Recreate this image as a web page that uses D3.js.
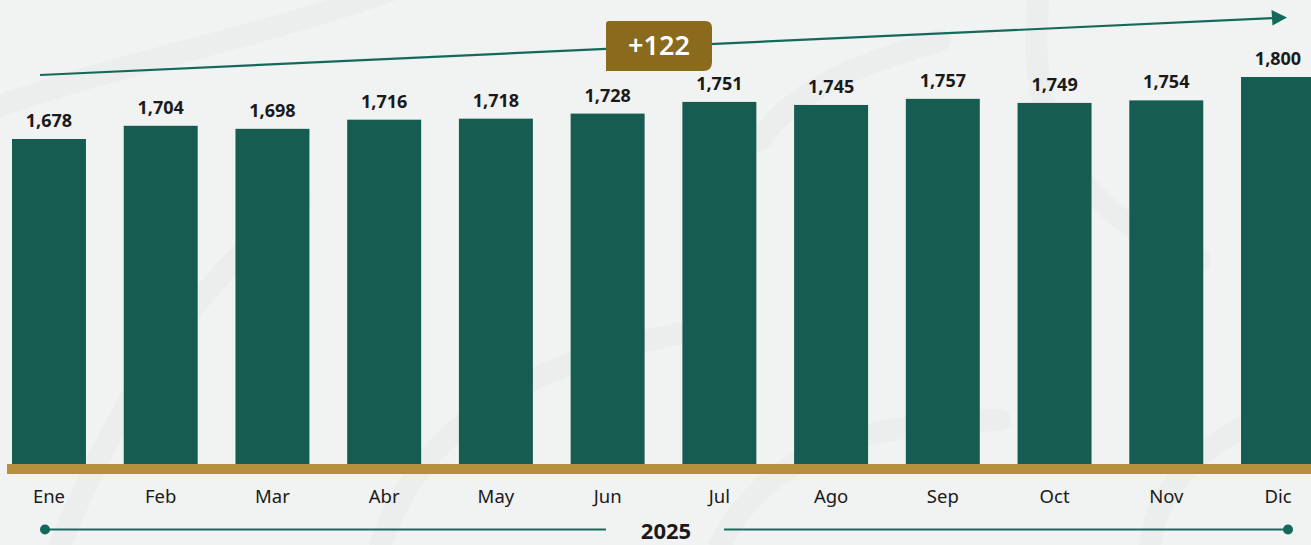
<!DOCTYPE html>
<html>
<head>
<meta charset="utf-8">
<script src="https://cdn.jsdelivr.net/npm/d3@7"></script>
<style>
  html, body { margin: 0; padding: 0; background: #f1f2f2; }
  svg { display: block; font-family: "Noto Sans", "Open Sans", sans-serif; }
</style>
</head>
<body>
<svg id="chart" width="1311" height="545"></svg>
<script>
const months = ["Ene", "Feb", "Mar", "Abr", "May", "Jun", "Jul", "Ago", "Sep", "Oct", "Nov", "Dic"];
const values = [1678, 1704, 1698, 1716, 1718, 1728, 1751, 1745, 1757, 1749, 1754, 1800];
const yearLabel = ["2025"];
const changeLabel = ["+122"];

const W = 1311, H = 545;
const svg = d3.select("#chart");

// background
svg.append("rect").attr("width", W).attr("height", H).attr("fill", "#f1f2f2");
const deco = svg.append("g").attr("fill", "none").attr("stroke", "#e8e9ea").attr("stroke-width", 22).attr("opacity", 0.55).attr("stroke-linecap", "round");
deco.append("path").attr("d", "M-40,120 C120,60 260,40 420,-20");
deco.append("path").attr("d", "M60,545 C120,400 180,300 300,200");
deco.append("path").attr("d", "M380,545 C420,430 520,360 700,330");
deco.append("path").attr("d", "M720,545 C760,460 860,420 1000,420");
deco.append("path").attr("d", "M1040,-10 C1020,120 1080,220 1200,260");
deco.append("path").attr("d", "M1150,545 C1160,470 1230,420 1320,400");
deco.append("path").attr("d", "M760,140 C800,80 880,60 940,40");

const x = d3.scaleBand().domain(months).range([12, 1315]).paddingInner(0.338).paddingOuter(0);
const y = d3.scaleLinear().domain([1038.5, 1800]).range([464, 77]);

// bars
svg.append("g").selectAll("rect").data(values).join("rect")
  .attr("x", (d, i) => x(months[i]))
  .attr("y", d => y(d))
  .attr("width", x.bandwidth())
  .attr("height", d => 464 - y(d))
  .attr("fill", "#165c50");

// value labels
svg.append("g").selectAll("text").data(values).join("text")
  .attr("x", (d, i) => x(months[i]) + x.bandwidth() / 2)
  .attr("y", d => y(d) - 12)
  .attr("text-anchor", "middle")
  .attr("font-size", 18)
  .attr("font-weight", 700)
  .attr("fill", "#1a1a1a")
  .text(d => d3.format(",")(d));

// gold baseline
svg.append("rect").attr("x", 7).attr("y", 464).attr("width", W - 7).attr("height", 10).attr("fill", "#b58f3c");

// month axis
const axis = svg.append("g").attr("transform", "translate(0,474)")
  .call(d3.axisBottom(x).tickSize(0).tickPadding(0));
axis.select(".domain").remove();
axis.selectAll("text")
  .attr("y", 29).attr("dy", 0)
  .attr("font-size", 18.5)
  .attr("font-family", "'Noto Sans', 'Open Sans', sans-serif")
  .attr("fill", "#1a1a1a");

// trend arrow
svg.append("line").attr("x1", 40).attr("y1", 75).attr("x2", 1274).attr("y2", 18.1)
  .attr("stroke", "#136a5a").attr("stroke-width", 2.2);
svg.append("path").attr("d", "M1287,17.5 L1271.5,10 L1272.5,25.5 Z").attr("fill", "#136a5a");

// change badge
const bx = 606, by = 21, bw = 106, bh = 50;
svg.append("path")
  .attr("d", `M${bx + 3},${by} L${bx + bw - 7},${by} Q${bx + bw},${by} ${bx + bw},${by + 7} L${bx + bw},${by + bh - 9} Q${bx + bw},${by + bh} ${bx + bw - 9},${by + bh} L${bx},${by + bh} L${bx},${by + 3} Q${bx},${by} ${bx + 3},${by} Z`)
  .attr("fill", "#8a6a1c");
svg.append("text").attr("x", bx + bw / 2).attr("y", 55)
  .attr("text-anchor", "middle").attr("font-size", 27).attr("font-weight", 600)
  .attr("fill", "#ffffff").text(changeLabel[0]);

// year line
const yl = 529.5;
svg.append("line").attr("x1", 45).attr("y1", yl).attr("x2", 606).attr("y2", yl).attr("stroke", "#1a6b5e").attr("stroke-width", 1.8);
svg.append("line").attr("x1", 724).attr("y1", yl).attr("x2", 1288).attr("y2", yl).attr("stroke", "#1a6b5e").attr("stroke-width", 1.8);
svg.append("circle").attr("cx", 45).attr("cy", yl).attr("r", 5).attr("fill", "#136a5a");
svg.append("circle").attr("cx", 1288).attr("cy", yl).attr("r", 5).attr("fill", "#136a5a");
svg.append("text").attr("x", 666).attr("y", 539).attr("text-anchor", "middle")
  .attr("font-size", 22).attr("font-weight", 700).attr("fill", "#1a1a1a").text(yearLabel[0]);
</script>
</body>
</html>
